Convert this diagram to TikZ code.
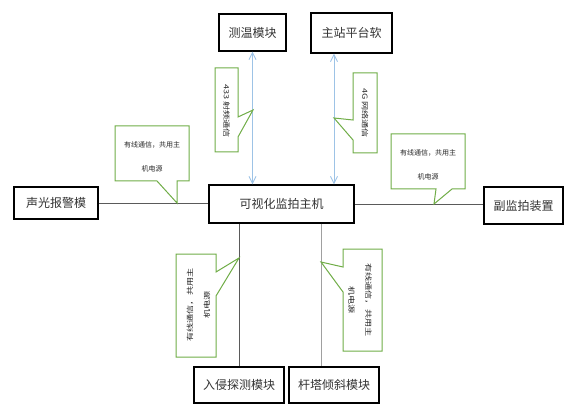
\documentclass[tikz,border=0pt]{standalone}
\usepackage{fontspec}
\usepackage{graphicx}
\newfontfamily\cjk{Noto Sans CJK SC}
\usetikzlibrary{arrows.meta}
\definecolor{calloutgreen}{RGB}{112,173,71}
\definecolor{linkblue}{RGB}{157,195,230}
\definecolor{wiregray}{RGB}{90,90,90}
\definecolor{wirelight}{RGB}{160,160,160}
\newcommand\vstr[1]{\scalebox{1.3}[1]{#1}}
\tikzset{
  modbox/.style={draw=black, line width=1.4pt, fill=white, inner sep=0pt,
    font=\cjk\fontsize{12}{14}\selectfont, text=black!80},
  callout/.style={draw=calloutgreen, line width=1pt, fill=white},
  calltext/.style={font=\cjk\fontsize{7}{24}\selectfont, align=center, inner sep=0pt, text=black!85},
  callvtext/.style={font=\cjk\fontsize{7}{17}\selectfont, align=center, inner sep=0pt, text=black!85},
  wire/.style={draw=wiregray, line width=0.8pt},
  wirel/.style={draw=wirelight, line width=1pt},
  radio/.style={draw=linkblue, line width=0.9pt, {Straight Barb[length=7pt,width=7pt]}-{Straight Barb[length=7pt,width=7pt]}}
}
\begin{document}
\begin{tikzpicture}[x=1pt,y=-1pt]
\useasboundingbox (0,0) rectangle (576,417);

% boxes
\node[modbox, minimum width=67pt, minimum height=37pt] (temp) at (252.5,32.5) {测温模块};
\node[modbox, minimum width=81pt, minimum height=40pt] (station) at (351.5,33) {主站平台软};
\node[modbox, minimum width=145pt, minimum height=38pt] (main) at (281.5,204) {可视化监拍主机};
\node[modbox, minimum width=84pt, minimum height=32pt] (alarm) at (56,203) {声光报警模};
\node[modbox, minimum width=79pt, minimum height=37pt] (sub) at (523.5,205.5) {副监拍装置};
\node[modbox, minimum width=90pt, minimum height=36pt] (intr) at (239,385) {入侵探测模块};
\node[modbox, minimum width=90pt, minimum height=36pt] (tilt) at (334,385) {杆塔倾斜模块};

\coordinate (xb) at (334,0);
\coordinate (xt) at (321,0);

% connectors
\draw[radio] (temp.south) -- (temp.south |- main.north);
\draw[radio] (xb |- station.south) -- (xb |- main.north);
\draw[wire] (alarm.east) -- (alarm.east -| main.west);
\draw[wire] (main.east) -- (main.east -| sub.west);
\draw[wire] (intr.north) -- (intr.north |- main.south);
\draw[wirel] (xt |- main.south) -- (xt |- tilt.north);

% callouts
\draw[callout] (215,68) -- (238,68) -- (238,117) -- (253,110) -- (238,137) -- (238,152) -- (215,152) -- cycle;
\node[callvtext, rotate=-90] (c1) at (226.5,111) {\vstr{433 射频通信}};

\draw[callout] (353,73) -- (377,73) -- (377,153) -- (353,153) -- (353,140) -- (334,118) -- (353,120) -- cycle;
\node[callvtext, rotate=-90] (c2) at (365,113) {\vstr{4G 网络通信}};

\draw[callout] (115,126) -- (189,126) -- (189,181) -- (177,181) -- (177,203) -- (157,181) -- (115,181) -- cycle;
\node[calltext] (c3) at (152,157) {有线通信，共用主\\机电源};

\draw[callout] (391,134) -- (465,134) -- (465,189) -- (452,189) -- (434,204) -- (436,189) -- (391,189) -- cycle;
\node[calltext] (c4) at (428,165) {有线通信，共用主\\机电源};

\draw[callout] (176,254) -- (216,254) -- (216,272) -- (239,258) -- (216,296) -- (216,357) -- (176,357) -- cycle;
\node[callvtext, rotate=90] (c5) at (198.5,305) {\vstr{有线通信，共用主}\\\vstr{机电源}};

\draw[callout] (343,249) -- (382,249) -- (382,351) -- (343,351) -- (343,292) -- (321,262) -- (343,267) -- cycle;
\node[callvtext, rotate=-90] (c6) at (360,300) {\vstr{有线通信，共用主}\\\vstr{机电源}};
\end{tikzpicture}
\end{document}
